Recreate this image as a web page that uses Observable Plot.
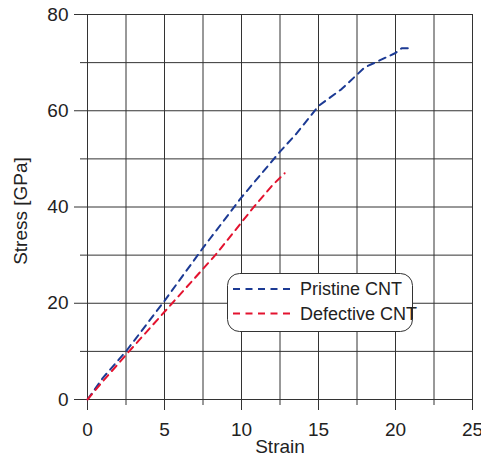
<!DOCTYPE html>
<html>
<head>
<meta charset="utf-8">
<script src="https://cdn.jsdelivr.net/npm/d3@7"></script>
<script src="https://cdn.jsdelivr.net/npm/@observablehq/plot@0.6"></script>
<style>
  html, body { margin: 0; padding: 0; background: white; }
  #chart { width: 481px; height: 459px; }
</style>
</head>
<body>
<div id="chart"></div>
<script>
// Data
const seriesNames = ["Pristine CNT", "Defective CNT"];
const seriesColors = ["#1c3a94", "#e3132f"];

const pristineStrain = [0, 1, 2.5, 5, 7.5, 10, 12.5, 13.5, 15, 16.5, 18, 19, 20, 20.4, 20.8];
const pristineStress = [0, 4.5, 10, 20.5, 31.5, 42, 51.5, 55, 61, 64.5, 69, 70.5, 72, 73, 73];

const defectiveStrain = [0, 1, 2.7, 5.5, 8.3, 10.8, 12, 12.8];
const defectiveStress = [0, 3.8, 10, 20, 30, 40, 44.5, 47];

const xMajorTicks = [0, 5, 10, 15, 20, 25];
const xMinorTicks = [2.5, 7.5, 12.5, 17.5, 22.5];
const yMajorTicks = [0, 20, 40, 60, 80];
const yMinorTicks = [10, 30, 50, 70];

const xTitle = "Strain";
const yTitle = "Stress [GPa]";

const pristine = pristineStrain.map((s, i) => ({strain: s, stress: pristineStress[i]}));
const defective = defectiveStrain.map((s, i) => ({strain: s, stress: defectiveStress[i]}));

const FONT = "'Liberation Sans', Arial, Helvetica, sans-serif";
const gridColor = "#333";
const dash = "7,5.5";

const plot = Plot.plot({
  width: 481,
  height: 459,
  marginLeft: 87,
  marginRight: 9,
  marginTop: 14,
  marginBottom: 60,
  x: {domain: [0, 25]},
  y: {domain: [0, 80]},
  style: {fontFamily: FONT, fontSize: "19px", color: "#222", background: "white", overflow: "visible"},
  marks: [
    Plot.gridX([...xMajorTicks, ...xMinorTicks], {stroke: gridColor, strokeOpacity: 1}),
    Plot.gridY([...yMajorTicks, ...yMinorTicks], {stroke: gridColor, strokeOpacity: 1}),
    Plot.axisX(xMajorTicks, {tickSize: 11, tickPadding: 12, label: null, stroke: gridColor, fontSize: 19}),
    Plot.axisX(xMinorTicks, {tickSize: 6, label: null, tickFormat: () => "", stroke: gridColor}),
    Plot.axisY(yMajorTicks, {tickSize: 13, tickPadding: 6, label: null, stroke: gridColor, fontSize: 19}),
    Plot.axisY(yMinorTicks, {tickSize: 7, label: null, tickFormat: () => "", stroke: gridColor}),
    Plot.line(pristine, {x: "strain", y: "stress", stroke: seriesColors[0], strokeWidth: 2, strokeDasharray: dash, curve: "linear"}),
    Plot.line(defective, {x: "strain", y: "stress", stroke: seriesColors[1], strokeWidth: 2, strokeDasharray: dash, curve: "linear"}),
    Plot.text([xTitle], {frameAnchor: "bottom", lineAnchor: "middle", textAnchor: "middle", dy: 47, fontSize: 19, fill: "#222"}),
    Plot.text([yTitle], {frameAnchor: "left", lineAnchor: "middle", textAnchor: "middle", dx: -67, dy: 4, rotate: -90, fontSize: 19, fill: "#222"})
  ]
});

document.getElementById("chart").appendChild(plot);

// Legend box inside the plot area
const svg = d3.select(plot);
const lg = svg.append("g").attr("font-family", FONT).attr("font-size", 18).attr("text-anchor", "start");
lg.append("rect")
  .attr("x", 227.5).attr("y", 273.5).attr("width", 185).attr("height", 58)
  .attr("rx", 12).attr("ry", 12)
  .attr("fill", "white").attr("stroke", "#333").attr("stroke-width", 1);
seriesNames.forEach((name, i) => {
  const y = 289 + i * 24.5;
  lg.append("line")
    .attr("x1", 233).attr("x2", 293).attr("y1", y).attr("y2", y)
    .attr("stroke", seriesColors[i]).attr("stroke-width", 2).attr("stroke-dasharray", dash);
  lg.append("text")
    .attr("x", 300).attr("y", y).attr("dy", "0.35em").attr("text-anchor", "start")
    .attr("fill", "#222").text(name);
});
</script>
</body>
</html>
